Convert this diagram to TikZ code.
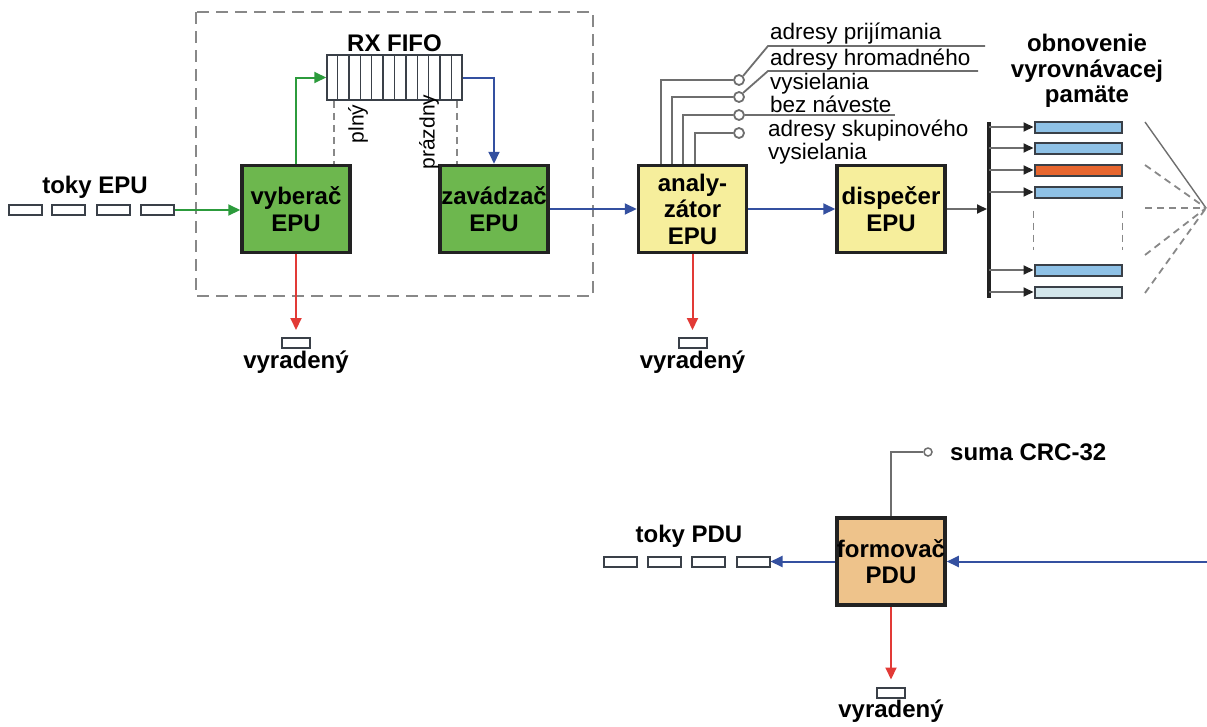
\documentclass[tikz,border=0pt]{standalone}
\usepackage{fontspec}
\setmainfont{Liberation Sans}
\usetikzlibrary{arrows.meta,calc}
\definecolor{gfill}{HTML}{6DB74E}
\definecolor{yfill}{HTML}{F6EE9C}
\definecolor{ofill}{HTML}{EEC38B}
\definecolor{garrow}{HTML}{2C9B3C}
\definecolor{barrow}{HTML}{3450A0}
\definecolor{rarrow}{HTML}{E23A36}
\definecolor{lgray}{HTML}{6E6E6E}
\definecolor{dgray}{HTML}{888888}
\definecolor{bbar}{HTML}{8EC1E6}
\definecolor{obar}{HTML}{E7662E}
\definecolor{pbar}{HTML}{D3E6EC}
\definecolor{outl}{HTML}{222222}
\definecolor{pkout}{HTML}{3A4048}
\tikzset{
  blk/.style={draw=outl, line width=3.5pt, minimum width=108pt, minimum height=87pt, inner sep=0pt, align=center, font=\fontsize{24}{26.5}\selectfont\bfseries},
  pkt/.style={draw=pkout, line width=2pt, fill=white, minimum width=33pt, minimum height=10pt, inner sep=0pt},
  dpkt/.style={pkt, minimum width=28pt},
  lbl/.style={font=\fontsize{24}{26}\selectfont\bfseries, inner sep=0pt, anchor=base},
  txt/.style={font=\fontsize{22.5}{24}\selectfont, inner sep=0pt, anchor=base west},
  rot/.style={font=\fontsize{21}{22}\selectfont, inner sep=0pt, rotate=90},
  tip/.style={-{Triangle[length=12pt,width=11pt]}},
  btip/.style={-{Triangle[length=10pt,width=9pt,color=outl,fill=outl]}},
  conn/.style={line width=2pt},
  gline/.style={draw=lgray, line width=1.8pt},
  bar/.style={draw=pkout, line width=2pt, minimum width=87pt, minimum height=11pt, inner sep=0pt},
  dsh/.style={draw=dgray, line width=1.8pt, dash pattern=on 7pt off 5pt},
  sw/.style={draw=lgray, line width=1.8pt, fill=white, circle, minimum size=10pt, inner sep=0pt},
}
\begin{document}
\begin{tikzpicture}[x=1pt,y=-1pt]
\useasboundingbox (0,0) rectangle (1207,726);

% dashed frame
\draw[draw=dgray, line width=1.8pt, dash pattern=on 12pt off 7pt] (196,12) rectangle (593,296);

% blocks
\node[blk, fill=gfill] (vyb) at (296,209) {vyberač\\EPU};
\node[blk, fill=gfill] (zav) at (494,209) {zavádzač\\EPU};
\node[blk, fill=yfill] (ana) at (692.5,209) {analy-\\zátor\\EPU};
\node[blk, fill=yfill] (dis) at (891,209) {dispečer\\EPU};
\node[blk, fill=ofill] (form) at (891,561.5) {formovač\\PDU};

% FIFO
\node[draw=pkout, line width=1.5pt, fill=white, minimum width=135pt, minimum height=45pt, inner sep=0pt] (fifo) at (394.5,77.5) {};
\foreach \i in {1,...,11} {
  \draw[pkout, line width=1.3pt] ($(fifo.north west)!\i/12!(fifo.north east)$) -- ($(fifo.south west)!\i/12!(fifo.south east)$);
}
\node[lbl] (rxl) at (394.5,51) {RX FIFO};

% input EPU stream
\node[lbl] (tokyepu) at (95,193) {toky EPU};
\node[pkt] (e1) at (25,210) {};
\node[pkt] (e2) at (68.5,210) {};
\node[pkt] (e3) at (113.5,210) {};
\node[pkt] (e4) at (157.5,210) {};
\draw[conn, garrow, tip] (e4.east) -- (vyb.west |- e4.east);

% selector -> FIFO
\draw[conn, garrow, tip] (vyb.north) |- (fifo.west);
% FIFO -> loader
\draw[conn, barrow, tip] (fifo.east) -| (zav.north);

% status lines
\coordinate (pl) at ($(fifo.south west)+(8,0)$);
\coordinate (pr) at ($(fifo.south east)+(-6,0)$);
\draw[dsh] (pl) -- (pl |- vyb.north);
\draw[dsh] (pr) -- (pr |- zav.north);
\node[rot] (plny) at (358,124) {plný};
\node[rot] (prazdny) at (429,132) {prázdny};

% discarded 1
\node[dpkt] (d1) at (296,343) {};
\node[lbl] (v1) at (296,368) {vyradený};
\draw[conn, rarrow, tip, shorten >=7pt] (vyb.south) -- (d1.north);

% loader -> analyzer -> dispatcher
\draw[conn, barrow, tip] (zav.east) -- (ana.west);
\draw[conn, barrow, tip] (ana.east) -- (dis.west);

% discarded 2
\node[dpkt] (d2) at (692.5,343) {};
\node[lbl] (v2) at (692.5,368) {vyradený};
\draw[conn, rarrow, tip, shorten >=7pt] (ana.south) -- (d2.north);

% analyzer switches
\node[sw] (c1) at (739,80) {};
\node[sw] (c2) at (739,97) {};
\node[sw] (c3) at (739,115) {};
\node[sw] (c4) at (739,133) {};
\coordinate (a1) at ($(ana.north west)+(24,0)$);
\coordinate (a2) at ($(ana.north west)+(35,0)$);
\coordinate (a3) at ($(ana.north west)+(46,0)$);
\coordinate (a4) at ($(ana.north west)+(58,0)$);
\draw[gline] (a1) |- (c1.west);
\draw[gline] (a2) |- (c2.west);
\draw[gline] (a3) |- (c3.west);
\draw[gline] (a4) |- (c4.west);
\coordinate (k1) at (768,46);
\coordinate (k1e) at (985,46);
\coordinate (k2) at (768,71);
\coordinate (k2e) at (978,71);
\coordinate (k3e) at (895,115);
\draw[gline] (c1.north east) -- (k1) -- (k1e);
\draw[gline] (c2.north east) -- (k2) -- (k2e);
\draw[gline] (c3.east) -- (k3e);
\node[txt] (t1) at (770,39) {adresy prijímania};
\node[txt] (t2) at (770,65) {adresy hromadného};
\node[txt] (t3) at (770,89) {vysielania};
\node[txt] (t4) at (770,112) {bez náveste};
\node[txt] (t5) at (768,136) {adresy skupinového};
\node[txt] (t6) at (768,159) {vysielania};

% buffer refresh
\node[lbl] (o1) at (1087,51) {obnovenie};
\node[lbl] (o2) at (1087,77) {vyrovnávacej};
\node[lbl] (o3) at (1087,102) {pamäte};

\coordinate (bt) at (989,122);
\coordinate (bb) at (989,298);
\draw[line width=3.5pt, outl] (bt) -- (bb);
\draw[gline, btip] (dis.east) -- ($(dis.east -| bt)+(-2,0)$);

\node[bar, fill=bbar] (b1) at (1078,127) {};
\node[bar, fill=bbar] (b2) at (1078,148) {};
\node[bar, fill=obar] (b3) at (1078,170) {};
\node[bar, fill=bbar] (b4) at (1078,192) {};
\node[bar, fill=bbar] (b5) at (1078,270) {};
\node[bar, fill=pbar] (b6) at (1078,292) {};
\foreach \b in {b1,b2,b3,b4,b5,b6} {
  \draw[gline, btip] (\b.west -| bt) -- (\b.west);
}
\draw[dsh] ($(b4.south west)+(0,12)$) -- ($(b5.north west)+(0,-14)$);
\draw[dsh] ($(b4.south east)+(0,12)$) -- ($(b5.north east)+(0,-14)$);

% fan to the right
\coordinate (cv) at (1206,208);
\draw[gline, line width=1.4pt] (1145,122) -- (cv);
\draw[dsh] (1145,165) -- (cv);
\draw[dsh] (1145,208) -- (cv);
\draw[dsh] (1145,255) -- (cv);
\draw[dsh] (1145,293) -- (cv);

% PDU formation
\coordinate (rin) at (1207,561.5);
\draw[conn, barrow, tip] (rin) -- (form.east);
\node[pkt] (p1) at (620.5,561.5) {};
\node[pkt] (p2) at (664,561.5) {};
\node[pkt] (p3) at (708.5,561.5) {};
\node[pkt] (p4) at (753,561.5) {};
\draw[conn, barrow, tip] (form.west) -- (p4.east);
\node[lbl] (tokypdu) at (689,542) {toky PDU};

\node[draw=lgray, line width=1.5pt, fill=white, circle, minimum size=8pt, inner sep=0pt] (crc) at (928,452) {};
\draw[gline] (form.north) |- (crc.west);
\node[lbl, anchor=base west] (crct) at (950,460) {suma CRC-32};

\node[dpkt] (d3) at (891,692.5) {};
\node[lbl] (v3) at (891,717) {vyradený};
\draw[conn, rarrow, tip, shorten >=7pt] (form.south) -- (d3.north);
\end{tikzpicture}
\end{document}
